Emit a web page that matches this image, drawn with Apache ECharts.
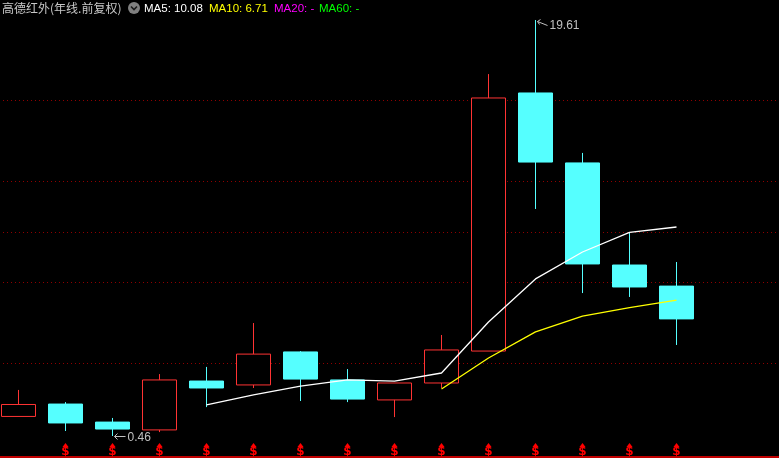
<!DOCTYPE html>
<html>
<head>
<meta charset="utf-8">
<style>html,body{margin:0;padding:0;background:#000}#c{width:779px;height:458px}</style>
<script src="https://cdn.jsdelivr.net/npm/echarts@6/dist/echarts.min.js"></script>
</head>
<body>
<div id="c"></div>
<script>
const titleText = '高德红外(年线.前复权)';
const maLabels = [
  ['MA5: 10.08', '#ffffff', 144],
  ['MA10: 6.71', '#ffff00', 209],
  ['MA20: -', '#ff00ff', 274],
  ['MA60: -', '#00ff00', 319]
];
const categories = ['Y1','Y2','Y3','Y4','Y5','Y6','Y7','Y8','Y9','Y10','Y11','Y12','Y13','Y14','Y15','',' '];
// open, close, low, high
const candles = [
  [1.36,1.91,1.36,2.58],
  [1.93,1.06,0.69,2.02],
  [1.10,0.78,0.46,1.29],
  [0.74,3.04,0.64,3.31],
  [2.99,2.67,1.79,3.64],
  [2.81,4.23,2.67,5.66],
  [4.33,3.08,2.07,4.37],
  [3.04,2.16,2.02,3.54],
  [2.12,2.90,1.33,2.90],
  [2.90,4.42,2.67,5.11],
  [4.37,16.02,4.37,17.12],
  [16.25,13.07,10.91,19.61],
  [13.03,8.38,7.04,13.49],
  [8.33,7.32,6.86,9.85],
  [7.36,5.85,4.65,8.47]
];
const ma5 = ['-','-','-','-',1.89,2.35,2.76,3.04,2.99,3.36,5.71,7.69,8.93,9.83,10.08];
const ma10 = ['-','-','-','-','-','-','-','-','-',2.62,4.05,5.25,5.98,6.37,6.71];
const gridValues = [15.904,12.175,9.827,7.526,3.797];
const signalIndex = [1,2,3,4,5,6,7,8,9,10,11,12,13,14];
const signalBase = -0.23;
const extremes = [
  {index:11, value:19.61, text:'19.61', kind:'high'},
  {index:2, value:0.46, text:'0.46', kind:'low'}
];
const GREY = '#c0c0c0', RED = '#ff3333', CYAN = '#55ffff';

const chart = echarts.init(document.getElementById('c'), null, {renderer:'canvas'});
chart.setOption({
  animation:false,
  backgroundColor:'#000',
  grid:{left:-5, top:0, width:799, height:457, containLabel:false, outerBoundsMode:'none'},
  xAxis:{type:'category', data:categories, boundaryGap:true,
    axisLine:{onZero:false, lineStyle:{color:'#c00000', width:2}},
    axisTick:{show:false}, axisLabel:{show:false}, splitLine:{show:false}},
  yAxis:{type:'value', min:-0.507, max:20.53, show:false, splitLine:{show:false}},
  graphic:[
    {type:'text', left:2, top:2, z:20, style:{text:titleText, fill:'#c8c8c8', font:'12px "Noto Sans CJK SC"'}},
    {type:'circle', shape:{cx:134, cy:8, r:6}, style:{fill:'#808080'}, z:20},
    {type:'polyline', shape:{points:[[131,6.5],[134,9.5],[137,6.5]]}, style:{stroke:'#1a1a1a', lineWidth:1.6, fill:null}, z:21}
  ].concat(maLabels.map(m => ({type:'text', left:m[2], top:3, z:20,
    style:{text:m[0], fill:m[1], font:'11.5px "Liberation Sans"'}}))),
  series:[
    {type:'line', data:[], silent:true, symbol:'none', z:1,
      markLine:{silent:true, symbol:'none', z:1, label:{show:false},
        lineStyle:{color:'#900000', type:[1,3], width:1},
        data:gridValues.map(v => ({yAxis:v}))}},
    {type:'candlestick', data:candles, barWidth:34, z:2, silent:true,
      itemStyle:{color:'#000', color0:CYAN, borderColor:RED, borderColor0:CYAN, borderWidth:1}},
    {type:'line', data:ma5, symbol:'none', z:3, silent:true, connectNulls:false,
      lineStyle:{color:'#ffffff', width:1.3}},
    {type:'line', data:ma10, symbol:'none', z:3, silent:true,
      lineStyle:{color:'#ffff00', width:1.3}},
    {type:'custom', data:signalIndex.map(i => [i, signalBase]), z:4, silent:true, clip:false,
      renderItem:(p, api) => {
        const c = api.coord([api.value(0), api.value(1)]);
        return {type:'group', children:[
          {type:'polygon', shape:{points:[[c[0],c[1]-8],[c[0]-3,c[1]-4],[c[0]+3,c[1]-4]]}, style:{fill:'#ff0000'}},
          {type:'text', x:c[0], y:c[1]+0.5, style:{text:'$', fill:'#ff0000', font:'bold 12px "DejaVu Sans"', align:'center', verticalAlign:'middle'}}
        ]};
      }},
    {type:'custom', data:extremes.map(e => [e.index, e.value]), z:5, silent:true, clip:false,
      renderItem:(p, api) => {
        const e = extremes[p.dataIndex];
        const c = api.coord([api.value(0), api.value(1)]);
        const x = Math.round(c[0]) + 0.5, y = Math.round(c[1]) + 0.5;
        const high = e.kind === 'high';
        const line = high ? [[x+1,y+1],[x+11,y+5]] : [[x+1,y],[x+12,y]];
        const head = high ? [[x+4,y-1],[x+1,y+1],[x+3,y+4]] : [[x+4,y-3],[x+1,y],[x+4,y+3]];
        return {type:'group', children:[
          {type:'polyline', shape:{points:line}, style:{stroke:GREY, lineWidth:1, fill:null}},
          {type:'polyline', shape:{points:head}, style:{stroke:GREY, lineWidth:1, fill:null}},
          {type:'text', x:x + (high ? 13 : 14), y:y + (high ? 5 : 1), style:{text:e.text, fill:GREY, font:'12px "Liberation Sans"', verticalAlign:'middle'}}
        ]};
      }}
  ]
});
</script>
</body>
</html>
